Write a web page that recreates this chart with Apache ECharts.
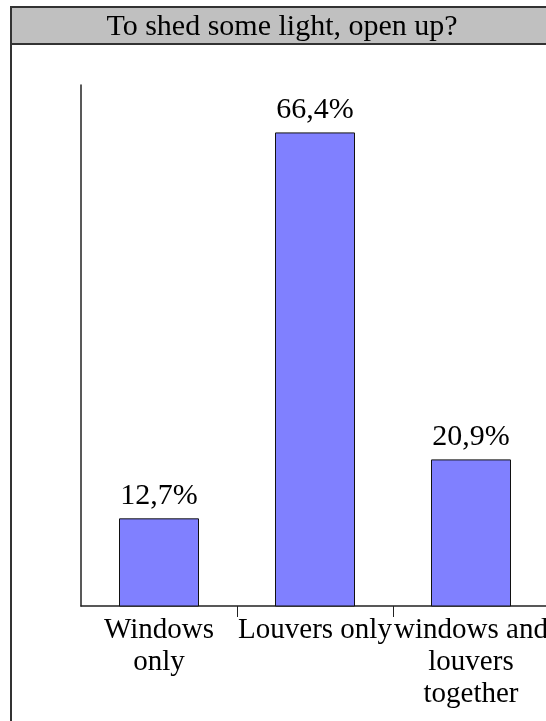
<!DOCTYPE html>
<html>
<head>
<meta charset="utf-8">
<script src="https://cdn.jsdelivr.net/npm/echarts@6/dist/echarts.min.js"></script>
<style>
  html, body { margin: 0; padding: 0; background: #fff; }
  #chart { width: 546px; height: 721px; }
</style>
</head>
<body>
<div id="chart"></div>
<script>
// chart data
const titleText = 'To shed some light, open up?'
const categories = ['Windows\nonly', 'Louvers only', 'windows and\nlouvers\ntogether']
const shares = [12.7, 66.4, 20.9]

const serif = '"Liberation Serif", "DejaVu Serif", serif'

const chart = echarts.init(document.getElementById('chart'))

chart.setOption({
  animation: false,
  backgroundColor: '#fff',
  graphic: [
    // outer frame
    {
      type: 'rect',
      shape: { x: 11, y: 7, width: 545, height: 730 },
      style: { fill: 'none', stroke: '#333', lineWidth: 2 },
      z: 0
    },
    // title bar
    {
      type: 'rect',
      shape: { x: 11, y: 7, width: 545, height: 37 },
      style: { fill: '#c0c0c0', stroke: '#333', lineWidth: 2 },
      z: 1
    },
    {
      type: 'text',
      x: 282,
      y: 27,
      style: {
        text: titleText,
        font: '30px ' + serif,
        fill: '#000',
        align: 'center',
        verticalAlign: 'middle'
      },
      z: 2
    }
  ],
  grid: {
    left: 81,
    right: -3,
    top: 85,
    bottom: 115,
    outerBoundsMode: 'none'
  },
  xAxis: {
    type: 'category',
    data: categories,
    axisLine: { lineStyle: { color: '#222', width: 1.5 } },
    axisTick: {
      show: true,
      length: 11,
      interval: function (i) { return i !== 0 },
      lineStyle: { color: '#222', width: 1 }
    },
    axisLabel: {
      interval: 0,
      margin: 8,
      color: '#000',
      fontFamily: serif,
      fontSize: 29,
      lineHeight: 32
    }
  },
  yAxis: {
    type: 'value',
    min: 0.5,
    max: 73,
    axisLine: { show: true, lineStyle: { color: '#222', width: 1.5 } },
    axisTick: { show: false },
    axisLabel: { show: false },
    splitLine: { show: false }
  },
  series: [
    {
      type: 'bar',
      data: shares,
      barWidth: 80,
      itemStyle: { color: '#8080ff', borderColor: '#111', borderWidth: 1 },
      label: {
        show: true,
        position: 'top',
        distance: 7,
        color: '#000',
        fontFamily: serif,
        fontSize: 30,
        formatter: function (p) { return p.value.toFixed(1).replace('.', ',') + '%' }
      }
    }
  ]
})
</script>
</body>
</html>
